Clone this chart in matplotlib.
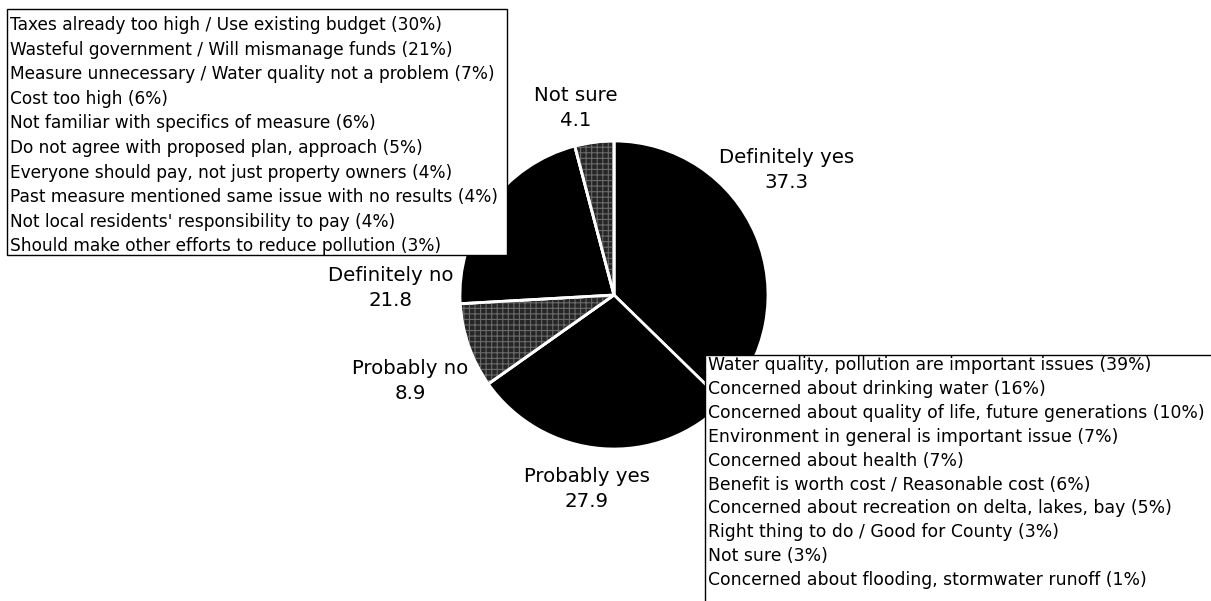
import matplotlib
matplotlib.use("Agg")
import matplotlib.pyplot as plt
from matplotlib.patches import Rectangle, Wedge

# Survey response shares (percent), clockwise from 12 o'clock
categories = ["Definitely yes", "Probably yes", "Probably no", "Definitely no", "Not sure"]
shares = [37.3, 27.9, 8.9, 21.8, 4.1]

# Reasons given by those opposed
reasons_no = [
    "Taxes already too high / Use existing budget",
    "Wasteful government / Will mismanage funds",
    "Measure unnecessary / Water quality not a problem",
    "Cost too high",
    "Not familiar with specifics of measure",
    "Do not agree with proposed plan, approach",
    "Everyone should pay, not just property owners",
    "Past measure mentioned same issue with no results",
    "Not local residents' responsibility to pay",
    "Should make other efforts to reduce pollution",
]
reasons_no_pct = [30, 21, 7, 6, 6, 5, 4, 4, 4, 3]

# Reasons given by those in favour
reasons_yes = [
    "Water quality, pollution are important issues",
    "Concerned about drinking water",
    "Concerned about quality of life, future generations",
    "Environment in general is important issue",
    "Concerned about health",
    "Benefit is worth cost / Reasonable cost",
    "Concerned about recreation on delta, lakes, bay",
    "Right thing to do / Good for County",
    "Not sure",
    "Concerned about flooding, stormwater runoff",
]
reasons_yes_pct = [39, 16, 10, 7, 7, 6, 5, 3, 3, 1]

W, H = 1211, 601
plt.rcParams["font.family"] = ["DejaVu Sans"]
plt.rcParams["hatch.linewidth"] = 0.8
fig = plt.figure(figsize=(W / 100, H / 100), dpi=100)
ax = fig.add_axes([0, 0, 1, 1])
renderer = fig.canvas.get_renderer()


def py(y):
    """Convert a top-down pixel row into axis y."""
    return H - y


def fit_size(text, width_px, base=10.0):
    """Font size at which `text` spans `width_px` pixels."""
    t = fig.text(0, 0, text, fontsize=base)
    w = t.get_window_extent(renderer).width
    t.remove()
    return base * width_px / w


center = (614, py(295))
radius = 154
fills = ["black", "black", "#262626", "black", "#262626"]
wedges, _ = ax.pie(shares, startangle=90, counterclock=False, colors=fills,
                   center=center, radius=radius, frame=True,
                   wedgeprops=dict(edgecolor="white", linewidth=2.0))
ax.set_xlim(0, W)
ax.set_ylim(0, H)
ax.set_aspect("equal")
ax.axis("off")

# stippled texture on the grey wedges
for w, c in zip(wedges, fills):
    if c != "black":
        ax.add_patch(Wedge(w.center, w.r, w.theta1, w.theta2, facecolor="none",
                           edgecolor="#6a6a6a", linewidth=0, hatch="+++"))
        ax.add_patch(Wedge(w.center, w.r, w.theta1, w.theta2, facecolor="none",
                           edgecolor="white", linewidth=2.0))

# category labels with values
label_fs = fit_size("Definitely yes", 135)
label_pos = [(787, 170), (587, 489), (410, 381), (391, 288), (576, 108)]
for cat, val, (x, y) in zip(categories, shares, label_pos):
    ax.text(x, py(y), f"{cat}\n{val:.1f}", ha="center", va="center",
            fontsize=label_fs, linespacing=1.45, color="black", zorder=7)

# reasons against
no_lines = [f"{t} ({p}%)" for t, p in zip(reasons_no, reasons_no_pct)]
no_fs = fit_size(no_lines[7], 486)
ax.add_patch(Rectangle((7, py(255)), 500, 246, facecolor="white",
                       edgecolor="black", linewidth=1.0, zorder=5))
for i, s in enumerate(no_lines):
    ax.text(10, py(25 + i * 24.6), s, ha="left", va="center",
            fontsize=no_fs, color="black", zorder=6)

# reasons in favour
yes_lines = [f"{t} ({p}%)" for t, p in zip(reasons_yes, reasons_yes_pct)]
yes_fs = fit_size(yes_lines[2], 495)
ax.add_patch(Rectangle((705, py(H + 5)), W, H + 5 - 355, facecolor="white",
                       edgecolor="black", linewidth=1.0, zorder=5))
for i, s in enumerate(yes_lines):
    ax.text(708, py(365 + i * 23.9), s, ha="left", va="center",
            fontsize=yes_fs, color="black", zorder=6)

fig.savefig("out.png", dpi=100)
